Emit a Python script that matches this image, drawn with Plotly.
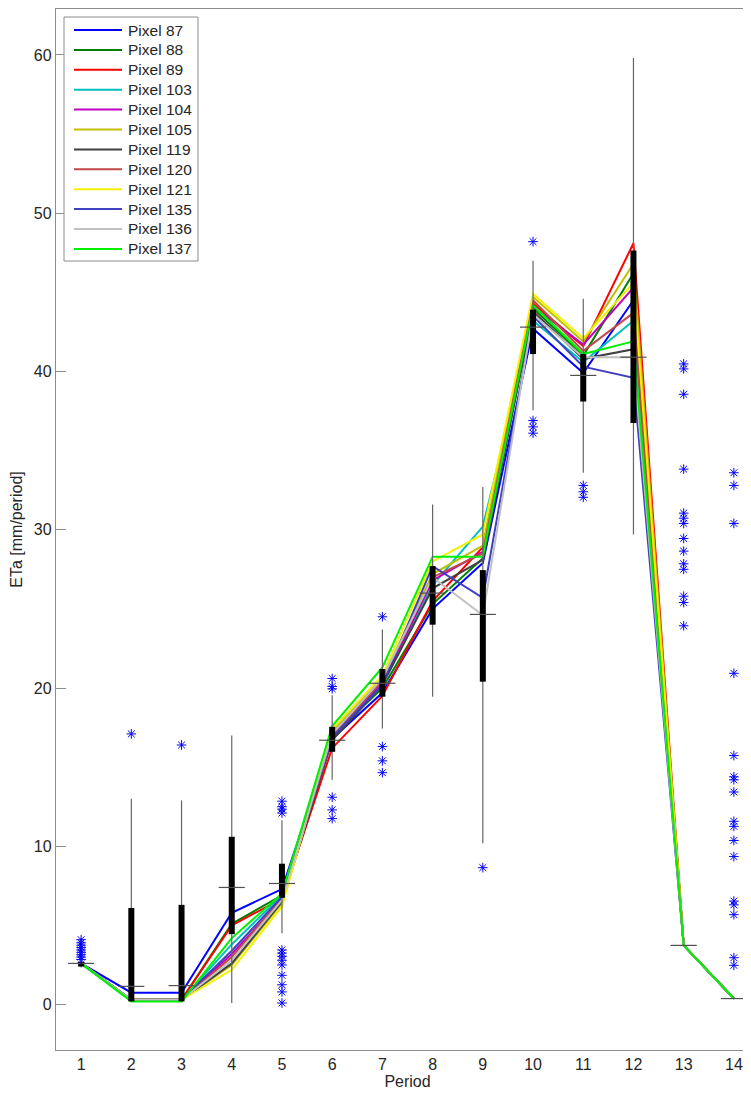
import plotly.graph_objects as go

periods = list(range(1, 15))

pixel_names = ["Pixel 87", "Pixel 88", "Pixel 89", "Pixel 103", "Pixel 104", "Pixel 105",
               "Pixel 119", "Pixel 120", "Pixel 121", "Pixel 135", "Pixel 136", "Pixel 137"]
pixel_colors = ["#0000FF", "#008000", "#FF0000", "#00BFBF", "#BF00BF", "#BFBF00",
                "#404040", "#C04848", "#F2F200", "#4040C0", "#C0C0C0", "#00F000"]

px87 = [2.6, 0.75, 0.75, 5.8, 7.3, 16.8, 19.7, 25.0, 27.9, 42.7, 39.9, 44.5, 3.74, 0.38]
px88 = [2.6, 0.3, 0.3, 5.1, 6.9, 17.0, 20.0, 25.3, 28.2, 44.0, 41.0, 46.2, 3.74, 0.38]
px89 = [2.6, 0.3, 0.3, 5.0, 6.7, 16.2, 19.5, 25.5, 28.9, 44.3, 41.6, 48.1, 3.74, 0.38]
px103 = [2.6, 0.3, 0.3, 3.8, 6.9, 17.2, 20.4, 26.5, 30.2, 43.2, 40.6, 43.2, 3.74, 0.38]
px104 = [2.6, 0.3, 0.3, 3.2, 6.6, 17.0, 20.3, 26.8, 28.6, 44.1, 41.7, 45.3, 3.74, 0.38]
px105 = [2.6, 0.3, 0.3, 2.5, 6.4, 17.3, 20.6, 27.2, 29.0, 44.7, 41.9, 46.8, 3.74, 0.38]
px119 = [2.6, 0.3, 0.3, 2.6, 6.5, 16.7, 20.2, 26.3, 28.1, 43.8, 40.8, 41.4, 3.74, 0.38]
px120 = [2.6, 0.3, 0.3, 3.0, 6.7, 16.9, 20.5, 27.0, 28.5, 44.5, 41.3, 43.7, 3.74, 0.38]
px121 = [2.6, 0.3, 0.3, 2.2, 6.2, 17.4, 20.8, 28.0, 29.7, 44.9, 42.1, 45.6, 3.74, 0.38]
px135 = [2.6, 0.3, 0.3, 3.4, 6.8, 16.9, 20.2, 27.7, 25.7, 43.5, 40.3, 39.6, 3.74, 0.38]
px136 = [2.6, 0.3, 0.3, 2.8, 6.6, 17.1, 20.6, 27.0, 24.6, 43.6, 40.9, 40.9, 3.74, 0.38]
px137 = [2.6, 0.2, 0.2, 4.2, 7.0, 17.6, 21.3, 28.3, 28.3, 44.2, 41.1, 41.9, 3.74, 0.38]

pixel_series = [px87, px88, px89, px103, px104, px105, px119, px120, px121, px135, px136, px137]

# box plot statistics per period
whisker_low = [2.35, 0.2, 0.2, 0.1, 4.5, 14.2, 17.45, 19.45, 10.2, 37.55, 33.6, 29.7, 3.74, 0.38]
whisker_high = [2.75, 13.0, 12.9, 17.0, 11.65, 19.55, 23.7, 31.6, 32.7, 47.0, 44.6, 59.8, 3.74, 0.38]
box_q1 = [2.4, 0.2, 0.2, 4.45, 6.75, 15.97, 19.45, 24.0, 20.4, 41.1, 38.1, 36.75, 3.74, 0.38]
box_q3 = [2.7, 6.1, 6.3, 10.6, 8.9, 17.55, 21.2, 27.7, 27.45, 43.9, 41.1, 47.65, 3.74, 0.38]
box_median = [2.6, 1.15, 1.2, 7.4, 7.65, 16.7, 20.3, 26.0, 24.65, 42.8, 39.75, 40.9, 3.74, 0.38]

outlier_period = ([1] * 9 + [2, 3] + [5] * 13 + [6] * 6 + [7] * 4 + [9] + [10] * 4 + [11] * 3
                  + [13] * 14 + [14] * 17)
outlier_value = ([4.1, 3.9, 3.75, 3.6, 3.45, 3.3, 3.15, 3.0, 2.85]
                 + [17.1, 16.4]
                 + [12.85, 12.5, 12.35, 12.1, 3.45, 3.25, 3.05, 2.8, 2.5, 1.85, 1.25, 0.8, 0.1]
                 + [20.6, 20.1, 19.95, 13.1, 12.3, 11.75]
                 + [24.5, 16.3, 15.4, 14.65]
                 + [8.65]
                 + [48.2, 36.9, 36.5, 36.1]
                 + [32.8, 32.4, 32.05]
                 + [40.48, 40.16, 38.56, 33.83, 31.05, 30.73, 30.4, 29.45, 28.65, 27.85, 27.5, 25.8, 25.4, 23.93]
                 + [33.6, 32.8, 30.4, 20.93, 15.73, 14.39, 14.2, 13.43, 11.58, 11.26, 10.37, 9.35,
                    6.54, 6.3, 5.68, 2.96, 2.48])

y_ticks = [0, 10, 20, 30, 40, 50, 60]

FONT = "Liberation Sans, Arial, Helvetica, sans-serif"
TXT = "#262626"
AXC = "#8c8c8c"

fig = go.Figure()

# pixel lines
for name, color, vals in zip(pixel_names, pixel_colors, pixel_series):
    fig.add_trace(go.Scatter(x=periods, y=vals, mode="lines", name=name, showlegend=False,
                             line=dict(color=color, width=2)))

# whiskers
wx, wy = [], []
for p, lo, hi in zip(periods, whisker_low, whisker_high):
    wx += [p, p, None]
    wy += [lo, hi, None]
fig.add_trace(go.Scatter(x=wx, y=wy, mode="lines", showlegend=False, hoverinfo="skip",
                         line=dict(color="#666666", width=1.2)))

# boxes (thick bars)
bx, by = [], []
for p, a, b in zip(periods, box_q1, box_q3):
    bx += [p, p, None]
    by += [a, b, None]
fig.add_trace(go.Scatter(x=bx, y=by, mode="lines", showlegend=False, hoverinfo="skip",
                         line=dict(color="#000000", width=6)))

# medians
half = 0.26
mx, my = [], []
for p, m in zip(periods, box_median):
    mx += [p - half, p + half, None]
    my += [m, m, None]
fig.add_trace(go.Scatter(x=mx, y=my, mode="lines", showlegend=False, hoverinfo="skip",
                         line=dict(color="#505050", width=1.2)))

# outliers
fig.add_trace(go.Scatter(x=outlier_period, y=outlier_value, mode="markers", showlegend=False,
                         marker=dict(symbol="asterisk-open", size=8, color="#0000FF",
                                     line=dict(color="#0000FF", width=1))))

# ---- legend (drawn in plot-area fractions) ----
# page offset of 8px (body margin) is included in the pixel positions below
PL, PR, PT, PB = 56.0, 759.0, 9.0, 1050.0


def fx(px):
    return (px - PL) / (PR - PL)


def fy(py):
    return (PB - py) / (PB - PT)


shapes = [dict(type="rect", xref="paper", yref="paper",
               x0=fx(64), x1=fx(198), y0=fy(261), y1=fy(17),
               line=dict(color=AXC, width=1), fillcolor="white", layer="above")]
annotations = []
for i, (name, color) in enumerate(zip(pixel_names, pixel_colors)):
    yc = 30 + 19.9 * i
    shapes.append(dict(type="line", xref="paper", yref="paper",
                       x0=fx(74), x1=fx(122), y0=fy(yc), y1=fy(yc),
                       line=dict(color=color, width=2), layer="above"))
    annotations.append(dict(xref="paper", yref="paper", x=fx(126), y=fy(yc),
                            text=name, showarrow=False, xanchor="left", yanchor="middle",
                            font=dict(family=FONT, size=15.5, color=TXT)))

fig.update_layout(
    width=751, height=1093,
    margin=dict(l=48, r=0, t=1, b=51),
    paper_bgcolor="white", plot_bgcolor="white",
    font=dict(family=FONT, size=16, color=TXT),
    showlegend=False,
    shapes=shapes,
    annotations=annotations,
    xaxis=dict(range=[0.5, 14.5], tickmode="array", tickvals=periods,
               ticktext=[str(p) for p in periods], ticks="", showline=True, mirror=True,
               linecolor=AXC, linewidth=1.3, showgrid=False, zeroline=False,
               tickfont=dict(family=FONT, size=16, color=TXT),
               title=dict(text="Period", standoff=2, font=dict(family=FONT, size=16, color=TXT))),
    yaxis=dict(range=[-2.87, 62.9], tickmode="array", tickvals=y_ticks,
               ticks="inside", ticklen=10, tickcolor=AXC, tickwidth=1.3,
               showline=True, linecolor=AXC, linewidth=1.3, mirror="ticks",
               showgrid=False, zeroline=False,
               tickfont=dict(family=FONT, size=16, color=TXT),
               title=dict(text="ETa [mm/period]", standoff=8, font=dict(family=FONT, size=16, color=TXT))),
)

fig.write_html("out.html")
